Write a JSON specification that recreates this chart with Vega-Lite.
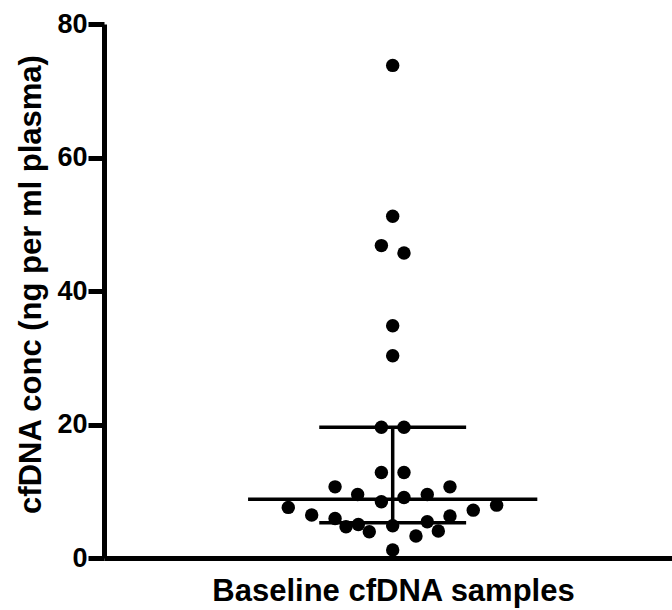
{
  "$schema": "https://vega.github.io/schema/vega-lite/v6.json",
  "width": 568,
  "height": 534,
  "autosize": {"type": "none"},
  "padding": {"left": 104, "top": 24, "right": 0, "bottom": 52},
  "background": "white",
  "config": {
    "view": {"stroke": null},
    "font": "Liberation Sans",
    "axis": {
      "grid": false,
      "domainColor": "black",
      "domainWidth": 5,
      "tickColor": "black",
      "tickWidth": 5,
      "tickSize": 16,
      "labelColor": "black",
      "labelFont": "Liberation Sans",
      "labelFontWeight": "bold",
      "labelFontSize": 27,
      "labelPadding": 1,
      "labelOverlap": false,
      "titleColor": "black",
      "titleFont": "Liberation Sans",
      "titleFontWeight": "bold",
      "titleFontSize": 31
    },
    "axisX": {
      "labels": false,
      "ticks": false,
      "titleX": 289,
      "titleY": 42,
      "titleBaseline": "alphabetic",
      "titleAlign": "center"
    },
    "axisY": {
      "titleX": -64,
      "titleY": 260,
      "titleAngle": 270,
      "titleBaseline": "alphabetic",
      "titleAlign": "center"
    }
  },
  "layer": [
    {
      "data": {
        "values": [
          {"conc": 73.8, "offset": 0},
          {"conc": 51.2, "offset": 0},
          {"conc": 46.8, "offset": -1},
          {"conc": 45.7, "offset": 1},
          {"conc": 34.8, "offset": 0},
          {"conc": 30.3, "offset": 0},
          {"conc": 19.6, "offset": -1},
          {"conc": 19.6, "offset": 1},
          {"conc": 12.8, "offset": -1},
          {"conc": 12.8, "offset": 1},
          {"conc": 10.66, "offset": -5.1},
          {"conc": 10.66, "offset": 5.07},
          {"conc": 9.52, "offset": -3.1},
          {"conc": 9.52, "offset": 3.06},
          {"conc": 8.42, "offset": -1},
          {"conc": 9.07, "offset": 1},
          {"conc": 7.58, "offset": -9.24},
          {"conc": 7.92, "offset": 9.2},
          {"conc": 6.43, "offset": -7.17},
          {"conc": 7.17, "offset": 7.13},
          {"conc": 5.93, "offset": -5.1},
          {"conc": 6.28, "offset": 5.07},
          {"conc": 4.68, "offset": -4.13},
          {"conc": 5.03, "offset": -3.04},
          {"conc": 5.43, "offset": 3.06},
          {"conc": 3.93, "offset": -2.07},
          {"conc": 4.83, "offset": 0},
          {"conc": 3.29, "offset": 2.06},
          {"conc": 4.04, "offset": 4.04},
          {"conc": 1.2, "offset": 0}
        ]
      },
      "mark": {"type": "circle", "size": 180, "opacity": 1, "color": "black"},
      "encoding": {
        "x": {"field": "offset", "type": "quantitative", "scale": {"domain": [-25.55, 24.72], "nice": false, "zero": false}, "title": "Baseline cfDNA samples"},
        "y": {"field": "conc", "type": "quantitative", "scale": {"domain": [0, 80], "nice": false}, "title": "cfDNA conc (ng per ml plasma)", "axis": {"values": [0, 20, 40, 60, 80]}}
      }
    },
    {
      "data": {
        "values": [
          {"stat": "median", "value": 8.8, "lo": -12.8, "hi": 12.8},
          {"stat": "q3", "value": 19.6, "lo": -6.5, "hi": 6.5},
          {"stat": "q1", "value": 5.28, "lo": -6.5, "hi": 6.5}
        ]
      },
      "mark": {"type": "rule", "color": "black", "strokeWidth": 3.5},
      "encoding": {
        "x": {"field": "lo", "type": "quantitative", "title": "Baseline cfDNA samples"},
        "x2": {"field": "hi"},
        "y": {"field": "value", "type": "quantitative", "title": "cfDNA conc (ng per ml plasma)", "axis": {"values": [0, 20, 40, 60, 80]}}
      }
    },
    {
      "data": {"values": [{"offset": 0, "lo": 5.28, "hi": 19.6}]},
      "mark": {"type": "rule", "color": "black", "strokeWidth": 3.5},
      "encoding": {
        "x": {"field": "offset", "type": "quantitative", "title": "Baseline cfDNA samples"},
        "y": {"field": "lo", "type": "quantitative", "title": "cfDNA conc (ng per ml plasma)", "axis": {"values": [0, 20, 40, 60, 80]}},
        "y2": {"field": "hi"}
      }
    }
  ]
}
